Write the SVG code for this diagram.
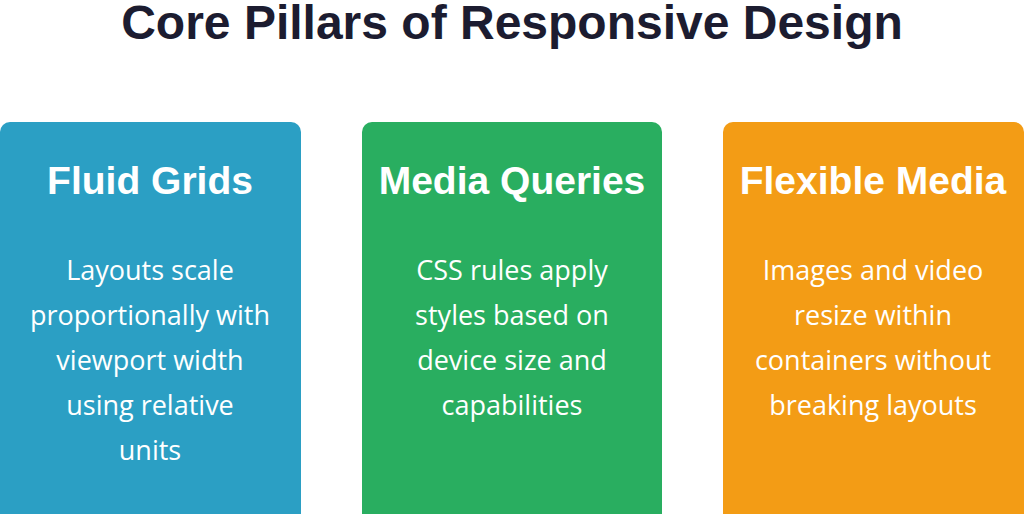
<svg xmlns="http://www.w3.org/2000/svg" width="1024" height="514" viewBox="0 0 1024 514">
<style>
.t{font-family:"Liberation Sans",Arial,sans-serif;font-weight:bold;font-size:48px;fill:#1c1c30;text-anchor:middle}
.h{font-family:"Liberation Sans",Arial,sans-serif;font-weight:bold;font-size:39px;fill:#fff;text-anchor:middle}
.b{font-family:"Open Sans","Noto Sans",sans-serif;font-size:27px;fill:#fff;text-anchor:middle}
</style>
<rect width="1024" height="514" fill="#fff"/>
<text class="t" x="512" y="39">Core Pillars of Responsive Design</text>
<g id="fluid-grids">
<rect x="0" y="122" width="301" height="402" rx="10" fill="#2b9fc4"/>
<text class="h" x="150" y="194">Fluid Grids</text>
<text class="b" x="150" y="280">Layouts scale</text>
<text class="b" x="150" y="325">proportionally with</text>
<text class="b" x="150" y="370">viewport width</text>
<text class="b" x="150" y="415">using relative</text>
<text class="b" x="150" y="460">units</text>
</g>
<g id="media-queries">
<rect x="362" y="122" width="300" height="402" rx="10" fill="#29ae60"/>
<text class="h" x="512" y="194">Media Queries</text>
<text class="b" x="512" y="280">CSS rules apply</text>
<text class="b" x="512" y="325">styles based on</text>
<text class="b" x="512" y="370">device size and</text>
<text class="b" x="512" y="415">capabilities</text>
</g>
<g id="flexible-media">
<rect x="723" y="122" width="301" height="402" rx="10" fill="#f39c15"/>
<text class="h" x="873" y="194">Flexible Media</text>
<text class="b" x="873" y="280">Images and video</text>
<text class="b" x="873" y="325">resize within</text>
<text class="b" x="873" y="370">containers without</text>
<text class="b" x="873" y="415">breaking layouts</text>
</g>
<g id="connectors"/>
</svg>
